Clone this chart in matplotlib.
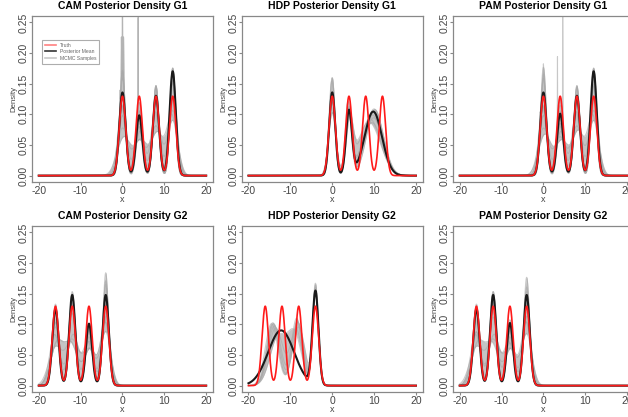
import numpy as np
import matplotlib.pyplot as plt

plt.rcParams['font.family'] = ['Liberation Sans', 'DejaVu Sans']
plt.rcParams['axes.unicode_minus'] = False

# grid the densities are evaluated on
x = np.linspace(-20, 20, 2001)

# true mixtures
g1_means = [0, 4, 8, 12]
g2_means = [-16, -12, -8, -4]
truth_w = [0.25, 0.25, 0.25, 0.25]
truth_sd = [0.77, 0.77, 0.77, 0.77]

# posterior means (means, weights, sds)
cam_g1_mean = (g1_means, [0.255, 0.185, 0.245, 0.32], [0.75, 0.75, 0.75, 0.75])
hdp_g1_mean = ([0, 4, 9.8], [0.245, 0.19, 0.55], [0.72, 0.72, 2.1])
pam_g1_mean = (g1_means, [0.255, 0.19, 0.245, 0.32], [0.75, 0.75, 0.75, 0.75])
cam_g2_mean = (g2_means, [0.235, 0.278, 0.19, 0.278], [0.75, 0.75, 0.75, 0.75])
hdp_g2_mean = ([-12.2, -4], [0.70, 0.275], [3.1, 0.72])
pam_g2_mean = (g2_means, [0.235, 0.278, 0.192, 0.278], [0.75, 0.75, 0.75, 0.75])

# a few MCMC draws per panel (means, weights, sds); short rows are spikes on the draw before
cam_g1_samp_mu = [[0, 4, 8, 12], [0, 4, 8, 12], [0, 4, 8, 12], [0, 4, 8, 12], [0, 4, 8, 12],
                  [0, 4, 8, 12], [-0.2, 4.2, 7.8, 12.2], [0.3, 4.4, 8.3, 11.8], [0, 4, 8, 12],
                  [-0.25, 0.0, 0.25, 3.75], [-0.6]]
cam_g1_samp_w = [[0.30, 0.16, 0.26, 0.28], [0.22, 0.22, 0.24, 0.32], [0.26, 0.20, 0.26, 0.28],
                 [0.25, 0.20, 0.27, 0.28], [0.28, 0.14, 0.24, 0.34], [0.24, 0.24, 0.25, 0.27],
                 [0.26, 0.20, 0.25, 0.29], [0.25, 0.21, 0.25, 0.29], [0.27, 0.19, 0.25, 0.29],
                 [0.008, 0.010, 0.008, 0.009], [0.004]]
cam_g1_samp_sd = [[0.70, 0.75, 0.72, 0.65], [0.90, 0.85, 0.80, 0.85], [1.05, 1.0, 1.0, 1.05],
                  [1.3, 1.4, 1.35, 1.25], [0.65, 0.70, 0.75, 0.80], [0.75, 0.80, 0.70, 0.70],
                  [0.9, 1.1, 0.95, 0.9], [1.6, 1.5, 1.45, 1.2], [0.68, 0.72, 0.68, 0.66],
                  [0.04, 0.03, 0.04, 0.02], [0.05]]

hdp_g1_samp_mu = [[0, 4, 9.5], [0, 4, 10], [0, 4.2, 9], [0, 4, 10.2], [0, 3.9, 9.6],
                  [0, 4.1, 8.8], [-0.1, 3.8, 9.9]]
hdp_g1_samp_w = [[0.28, 0.20, 0.52], [0.22, 0.18, 0.60], [0.25, 0.17, 0.58], [0.26, 0.20, 0.54],
                 [0.24, 0.19, 0.57], [0.23, 0.18, 0.59], [0.27, 0.21, 0.52]]
hdp_g1_samp_sd = [[0.70, 0.75, 2.4], [0.85, 0.70, 2.2], [0.75, 0.80, 2.5], [0.65, 0.72, 2.0],
                  [0.80, 0.75, 2.3], [0.90, 0.85, 2.7], [0.70, 0.70, 2.2]]

pam_g1_samp_mu = [[0, 4, 8, 12], [0, 4, 8, 12], [0, 4, 8, 12], [0, 4, 8, 12], [0, 4, 8, 12],
                  [0, 4, 8, 12], [-0.2, 4.2, 7.8, 12.2], [0.3, 4.4, 8.3, 11.8], [0, 4, 8, 12],
                  [3.35, 4.6, -0.8, 0.0]]
pam_g1_samp_w = [[0.31, 0.16, 0.26, 0.27], [0.22, 0.23, 0.24, 0.31], [0.26, 0.20, 0.26, 0.28],
                 [0.25, 0.21, 0.26, 0.28], [0.27, 0.15, 0.24, 0.34], [0.24, 0.25, 0.25, 0.26],
                 [0.26, 0.20, 0.25, 0.29], [0.25, 0.21, 0.25, 0.29], [0.27, 0.19, 0.25, 0.29],
                 [0.007, 0.012, 0.003, 0.003]]
pam_g1_samp_sd = [[0.70, 0.75, 0.72, 0.65], [0.90, 0.80, 0.80, 0.85], [1.05, 1.0, 1.0, 1.05],
                  [1.3, 1.35, 1.3, 1.25], [0.65, 0.70, 0.75, 0.78], [0.75, 0.78, 0.70, 0.70],
                  [0.9, 1.1, 0.95, 0.9], [1.5, 1.5, 1.4, 1.2], [0.68, 0.72, 0.68, 0.66],
                  [0.02, 0.02, 0.05, 0.05]]

cam_g2_samp_mu = [g2_means, g2_means, g2_means, g2_means, g2_means, g2_means,
                  [-16.2, -11.8, -8.2, -3.9], [-15.7, -12.3, -7.7, -4.1], [-3.8]]
cam_g2_samp_w = [[0.25, 0.30, 0.20, 0.30], [0.22, 0.26, 0.18, 0.30], [0.24, 0.28, 0.20, 0.26],
                 [0.25, 0.27, 0.22, 0.26], [0.23, 0.29, 0.17, 0.31], [0.24, 0.28, 0.19, 0.27],
                 [0.25, 0.27, 0.21, 0.27], [0.24, 0.27, 0.21, 0.28], [0.015]]
cam_g2_samp_sd = [[0.75, 0.78, 0.80, 0.70], [0.85, 0.70, 0.90, 0.65], [1.0, 0.95, 1.1, 1.0],
                  [1.6, 1.5, 1.5, 1.2], [0.72, 0.80, 0.75, 0.75], [0.80, 0.75, 0.85, 0.80],
                  [1.2, 1.3, 1.2, 0.95], [1.45, 1.6, 1.4, 1.1], [0.10]]

hdp_g2_samp_mu = [[-14, -8.3, -4], [-13.5, -8.6, -4], [-14.2, -8, -4], [-13.8, -8.5, -4],
                  [-13, -9, -4], [-14.5, -8.2, -4]]
hdp_g2_samp_w = [[0.38, 0.34, 0.28], [0.40, 0.32, 0.28], [0.36, 0.36, 0.28], [0.39, 0.33, 0.28],
                 [0.37, 0.35, 0.28], [0.38, 0.35, 0.27]]
hdp_g2_samp_sd = [[1.5, 1.3, 0.70], [1.7, 1.4, 0.75], [1.4, 1.5, 0.68], [1.6, 1.2, 0.72],
                  [1.9, 1.7, 0.72], [1.5, 1.35, 0.66]]

pam_g2_samp_mu = [g2_means, g2_means, g2_means, g2_means, g2_means, g2_means,
                  [-16.2, -11.8, -8.2, -3.9], [-15.7, -12.3, -7.7, -4.1]]
pam_g2_samp_w = [[0.25, 0.30, 0.21, 0.29], [0.21, 0.25, 0.18, 0.31], [0.24, 0.28, 0.20, 0.26],
                 [0.25, 0.27, 0.22, 0.26], [0.23, 0.30, 0.17, 0.30], [0.24, 0.28, 0.19, 0.27],
                 [0.25, 0.27, 0.21, 0.27], [0.24, 0.27, 0.21, 0.28]]
pam_g2_samp_sd = [[0.75, 0.78, 0.78, 0.72], [0.95, 0.72, 0.90, 0.70], [1.1, 1.0, 1.15, 1.0],
                  [1.6, 1.5, 1.5, 1.25], [0.72, 0.78, 0.75, 0.78], [0.80, 0.75, 0.85, 0.80],
                  [1.2, 1.3, 1.2, 0.95], [1.45, 1.6, 1.4, 1.1]]


def mix(means, weights, sds):
    d = np.zeros_like(x)
    for m, w, s in zip(means, weights, sds):
        d += w * np.exp(-0.5 * ((x - m) / s) ** 2) / (s * np.sqrt(2 * np.pi))
    return d


panels = [
    ("CAM Posterior Density G1", g1_means, cam_g1_mean, (cam_g1_samp_mu, cam_g1_samp_w, cam_g1_samp_sd)),
    ("HDP Posterior Density G1", g1_means, hdp_g1_mean, (hdp_g1_samp_mu, hdp_g1_samp_w, hdp_g1_samp_sd)),
    ("PAM Posterior Density G1", g1_means, pam_g1_mean, (pam_g1_samp_mu, pam_g1_samp_w, pam_g1_samp_sd)),
    ("CAM Posterior Density G2", g2_means, cam_g2_mean, (cam_g2_samp_mu, cam_g2_samp_w, cam_g2_samp_sd)),
    ("HDP Posterior Density G2", g2_means, hdp_g2_mean, (hdp_g2_samp_mu, hdp_g2_samp_w, hdp_g2_samp_sd)),
    ("PAM Posterior Density G2", g2_means, pam_g2_mean, (pam_g2_samp_mu, pam_g2_samp_w, pam_g2_samp_sd)),
]

lefts = [0.051, 0.385, 0.7213]
bottoms = [0.5636, 0.060]
frame_col = '#888888'
text_col = '#444444'

fig = plt.figure(figsize=(6.28, 4.17), dpi=100)

for i, (title, tmeans, mean_par, samp) in enumerate(panels):
    ax = fig.add_axes([lefts[i % 3], bottoms[i // 3], 0.288, 0.398])
    mu, w, sd = samp
    curves = []
    for m, ww, s in zip(mu, w, sd):
        c = mix(m, ww, s)
        if len(m) < len(mu[0]) or (len(m) == len(mu[0]) and max(s) < 0.1):
            # spike draws: narrow components added on top of the previous draw
            c = c + curves[-1]
        curves.append(c)
    curves = np.array(curves)
    ax.fill_between(x, curves.min(axis=0), curves.max(axis=0), color='#c4c4c4', lw=0)
    for c in curves:
        ax.plot(x, c, color='#a8a8a8', lw=0.8, alpha=0.6)
    ax.plot(x, mix(*mean_par), color='#1a1a1a', lw=1.5)
    ax.plot(x, mix(tmeans, truth_w, truth_sd), color='#ff1a1a', lw=1.2)

    ax.set_xlim(-21.6, 21.6)
    ax.set_ylim(-0.0104, 0.2604)
    ax.set_xticks([-20, -10, 0, 10, 20])
    ax.set_yticks([0, 0.05, 0.10, 0.15, 0.20, 0.25])
    ax.set_yticklabels(['0.00', '0.05', '0.10', '0.15', '0.20', '0.25'], rotation=90, va='center')
    ax.tick_params(labelsize=7.5, colors=frame_col, labelcolor=text_col, length=2.2, width=0.8, pad=0.8)
    ax.tick_params(axis='y', pad=0.3)
    for sp in ax.spines.values():
        sp.set_color(frame_col)
        sp.set_linewidth(0.9)
    ax.set_title(title, fontsize=7.5, fontweight='bold', pad=5)
    ax.set_xlabel('x', fontsize=6.5, color=text_col, labelpad=-0.5)
    ax.set_ylabel('Density', fontsize=5.6, color=text_col, labelpad=0.8)

    if i == 0:
        h1, = ax.plot([], [], color='#ff8080', lw=1.2)
        h2, = ax.plot([], [], color='#333333', lw=1.2)
        h3, = ax.plot([], [], color='#c8c8c8', lw=1.2)
        leg = ax.legend([h1, h2, h3], ['Truth', 'Posterior Mean', 'MCMC Samples'],
                        loc='upper left', bbox_to_anchor=(0.039, 0.873), fontsize=3.6,
                        frameon=True, fancybox=False, handlelength=2.2, borderpad=0.6,
                        labelspacing=0.3, labelcolor='#666666')
        leg.get_frame().set_edgecolor('#999999')
        leg.get_frame().set_linewidth(0.8)

fig.savefig('out.png', dpi=100)
